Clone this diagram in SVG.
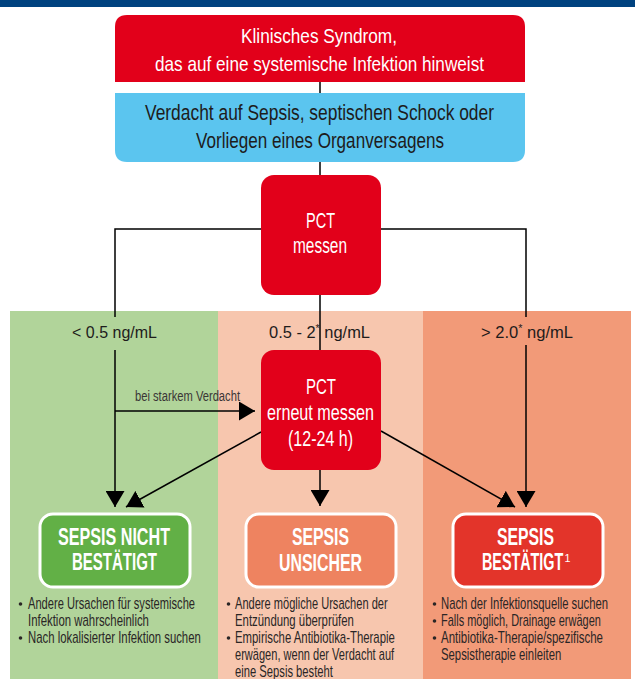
<svg xmlns="http://www.w3.org/2000/svg" width="635" height="679" viewBox="0 0 635 679">
<style>
.t{font-family:"Liberation Sans",Arial,sans-serif}
.w{fill:#ffffff}
.d{fill:#1e1c1c}
.c{fill:none;stroke:#000;stroke-width:1.5}
.rb{stroke:#fff;stroke-width:3}
.res{font-family:"Liberation Sans",Arial,sans-serif;font-weight:bold;font-size:24px;fill:#fff}
.bl{font-family:"Liberation Sans",Arial,sans-serif;font-size:16px;fill:#2a2626}
.lab{font-family:"Liberation Sans",Arial,sans-serif;font-size:17px;fill:#1e1c1c}
.sup{font-size:11px}
</style>
<defs>
<marker id="ah" markerUnits="userSpaceOnUse" markerWidth="16" markerHeight="19" refX="16" refY="9.5" orient="auto" viewBox="0 0 16 19">
<path d="M0,0 L16,9.5 L0,19 z" fill="#000"/>
</marker>
</defs>
<rect x="0" y="0" width="635" height="7" fill="#00427f"/>
<g id="bands">
<rect x="10" y="311" width="208" height="368" fill="#b1d49a"/>
<rect x="218" y="311" width="205" height="368" fill="#f7c6ae"/>
<rect x="423" y="311" width="208" height="368" fill="#f29a78"/>
</g>
<g id="connectors">
<line class="c" x1="320" y1="82" x2="320" y2="93"/>
<line class="c" x1="320" y1="162" x2="320" y2="175"/>
<polyline class="c" points="261,229 115,229 115,317"/>
<polyline class="c" points="381,229 526,229 526,317"/>
<line class="c" x1="320" y1="295" x2="320" y2="350"/>
<line class="c" x1="115" y1="350" x2="115" y2="507" marker-end="url(#ah)"/>
<line class="c" x1="526" y1="345" x2="526" y2="507" marker-end="url(#ah)"/>
<line class="c" x1="115" y1="411" x2="255" y2="411" marker-end="url(#ah)"/>
<line class="c" x1="261" y1="432" x2="126" y2="507" marker-end="url(#ah)"/>
<line class="c" x1="381" y1="431" x2="515" y2="507" marker-end="url(#ah)"/>
<line class="c" x1="320" y1="470" x2="320" y2="506" marker-end="url(#ah)"/>
<text class="t" x="135" y="401" font-size="14" fill="#3a3636" textLength="105" lengthAdjust="spacingAndGlyphs">bei starkem Verdacht</text>
</g>
<g id="syndrom">
<path d="M115,82 V27 Q115,15 127,15 H513 Q525,15 525,27 V82 Z" fill="#e2001a"/>
<text class="t w" x="241" y="43" font-size="21" textLength="156" lengthAdjust="spacingAndGlyphs">Klinisches Syndrom,</text>
<text class="t w" x="155" y="71" font-size="21" textLength="329" lengthAdjust="spacingAndGlyphs">das auf eine systemische Infektion hinweist</text>
</g>
<g id="verdacht">
<path d="M115,93 H525 V150 Q525,162 513,162 H127 Q115,162 115,150 Z" fill="#5bc5ef"/>
<text class="t d" x="145" y="120" font-size="22" textLength="349" lengthAdjust="spacingAndGlyphs">Verdacht auf Sepsis, septischen Schock oder</text>
<text class="t d" x="196" y="148" font-size="22" textLength="248" lengthAdjust="spacingAndGlyphs">Vorliegen eines Organversagens</text>
</g>
<g id="pct1">
<rect x="261" y="175" width="120" height="120" rx="13" fill="#e2001a"/>
<text class="t w" x="306" y="228" font-size="22" textLength="29" lengthAdjust="spacingAndGlyphs">PCT</text>
<text class="t w" x="293" y="253" font-size="22" textLength="54" lengthAdjust="spacingAndGlyphs">messen</text>
</g>
<g id="labels">
<text class="lab" x="72" y="338" textLength="85" lengthAdjust="spacingAndGlyphs">&lt; 0.5 ng/mL</text>
<text class="lab" x="269" y="338" textLength="101" lengthAdjust="spacingAndGlyphs">0.5 - 2<tspan class="sup" dy="-6">*</tspan><tspan dy="6"> ng/mL</tspan></text>
<text class="lab" x="481" y="338" textLength="92" lengthAdjust="spacingAndGlyphs">&gt; 2.0<tspan class="sup" dy="-6">*</tspan><tspan dy="6"> ng/mL</tspan></text>
</g>
<g id="pct2">
<rect x="261" y="350" width="120" height="120" rx="13" fill="#e2001a"/>
<text class="t w" x="306" y="394" font-size="22" textLength="30" lengthAdjust="spacingAndGlyphs">PCT</text>
<text class="t w" x="267" y="420" font-size="22" textLength="107" lengthAdjust="spacingAndGlyphs">erneut messen</text>
<text class="t w" x="288" y="446" font-size="22" textLength="65" lengthAdjust="spacingAndGlyphs">(12-24 h)</text>
</g>
<g id="nicht">
<rect class="rb" x="40" y="514" width="150" height="73" rx="13" fill="#62b046"/>
<text class="res" x="58" y="545" textLength="112" lengthAdjust="spacingAndGlyphs">SEPSIS NICHT</text>
<text class="res" x="72" y="570" textLength="85" lengthAdjust="spacingAndGlyphs">BESTÄTIGT</text>
<circle cx="20.5" cy="604" r="1.8" fill="#2a2626"/>
<text class="bl" transform="translate(28,609) scale(0.72,1)" textLength="232" lengthAdjust="spacingAndGlyphs">Andere Ursachen für systemische</text>
<text class="bl" transform="translate(28,626) scale(0.72,1)" textLength="168" lengthAdjust="spacingAndGlyphs">Infektion wahrscheinlich</text>
<circle cx="20.5" cy="638" r="1.8" fill="#2a2626"/>
<text class="bl" transform="translate(28,643) scale(0.72,1)" textLength="240" lengthAdjust="spacingAndGlyphs">Nach lokalisierter Infektion suchen</text>
</g>
<g id="unsicher">
<rect class="rb" x="246" y="514" width="150" height="73" rx="13" fill="#ee8360"/>
<text class="res" x="292" y="545" textLength="57" lengthAdjust="spacingAndGlyphs">SEPSIS</text>
<text class="res" x="279" y="571" textLength="83" lengthAdjust="spacingAndGlyphs">UNSICHER</text>
<circle cx="228.5" cy="604" r="1.8" fill="#2a2626"/>
<text class="bl" transform="translate(235,609) scale(0.72,1)" textLength="212" lengthAdjust="spacingAndGlyphs">Andere mögliche Ursachen der</text>
<text class="bl" transform="translate(235,626) scale(0.72,1)" textLength="165" lengthAdjust="spacingAndGlyphs">Entzündung überprüfen</text>
<circle cx="228.5" cy="638" r="1.8" fill="#2a2626"/>
<text class="bl" transform="translate(235,643) scale(0.72,1)" textLength="222" lengthAdjust="spacingAndGlyphs">Empirische Antibiotika-Therapie</text>
<text class="bl" transform="translate(235,660) scale(0.72,1)" textLength="221" lengthAdjust="spacingAndGlyphs">erwägen, wenn der Verdacht auf</text>
<text class="bl" transform="translate(235,677) scale(0.72,1)" textLength="136" lengthAdjust="spacingAndGlyphs">eine Sepsis besteht</text>
</g>
<g id="bestaetigt">
<rect class="rb" x="453" y="514" width="150" height="73" rx="13" fill="#e3342a"/>
<text class="res" x="497" y="545" textLength="57" lengthAdjust="spacingAndGlyphs">SEPSIS</text>
<text class="res" transform="translate(482,570) scale(0.65,1)" textLength="125" lengthAdjust="spacingAndGlyphs">BESTÄTIGT</text>
<text class="t w" x="564.5" y="562" font-size="11" textLength="6" lengthAdjust="spacingAndGlyphs">1</text>
<circle cx="434.5" cy="604" r="1.8" fill="#2a2626"/>
<text class="bl" transform="translate(441,609) scale(0.72,1)" textLength="232" lengthAdjust="spacingAndGlyphs">Nach der Infektionsquelle suchen</text>
<circle cx="434.5" cy="621" r="1.8" fill="#2a2626"/>
<text class="bl" transform="translate(441,626) scale(0.72,1)" textLength="222" lengthAdjust="spacingAndGlyphs">Falls möglich, Drainage erwägen</text>
<circle cx="434.5" cy="638" r="1.8" fill="#2a2626"/>
<text class="bl" transform="translate(441,643) scale(0.72,1)" textLength="225" lengthAdjust="spacingAndGlyphs">Antibiotika-Therapie/spezifische</text>
<text class="bl" transform="translate(441,660) scale(0.72,1)" textLength="167" lengthAdjust="spacingAndGlyphs">Sepsistherapie einleiten</text>
</g>
</svg>
